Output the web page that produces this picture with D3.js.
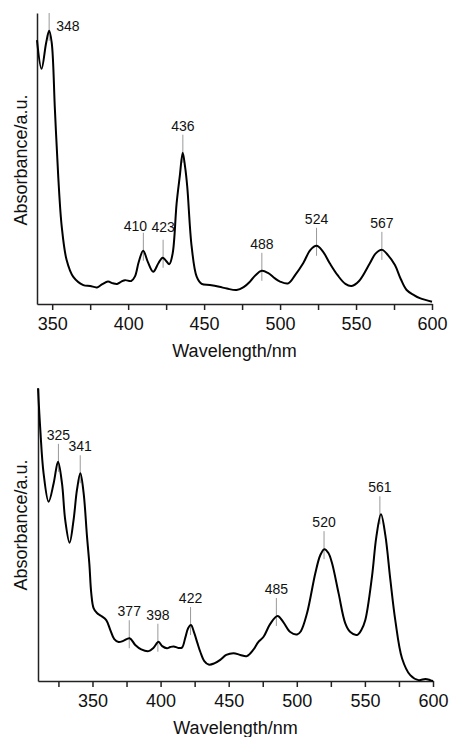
<!DOCTYPE html>
<html>
<head>
<meta charset="utf-8">
<script src="https://cdn.jsdelivr.net/npm/d3@7"></script>
<style>
  body { margin: 0; background: #fff; }
  svg { display: block; font-family: "Liberation Sans", Arial, sans-serif; }
</style>
</head>
<body>
<div class="chart"></div>
<script>
// two absorbance spectra, stacked

var width = 449;
var height = 737;

// top spectrum
var topWavelength = [340, 343, 346, 348, 349.7, 351.8, 354, 356.3, 359.5, 363.9, 370.5, 375, 379.5, 383, 386.7,
  390, 392.7, 395.5, 398, 402, 404.5, 407, 409.9, 413, 416.5, 420, 422.7, 425, 427.1, 429.3, 431.9, 434,
  435.9, 437.5, 438.9, 441.8, 445.1, 448.4, 453.8, 460, 465, 471.4, 476, 480.2, 484, 487.9, 492, 496.6,
  500, 505.4, 510, 515.2, 520, 524, 528, 532.7, 538, 543, 547.1, 552, 559.1, 563, 567.2, 571, 575.6,
  579.5, 583.3, 588, 592, 600];
var topAbsorbance = [0.907, 0.808, 0.897, 0.939, 0.897, 0.667, 0.436, 0.265, 0.151, 0.093, 0.065, 0.062, 0.057, 0.068, 0.077,
  0.071, 0.069, 0.077, 0.082, 0.079, 0.095, 0.145, 0.183, 0.144, 0.111, 0.141, 0.159, 0.148, 0.137, 0.174, 0.346, 0.44,
  0.52, 0.47, 0.403, 0.197, 0.094, 0.069, 0.065, 0.059, 0.053, 0.048, 0.058, 0.077, 0.1, 0.114, 0.107, 0.088,
  0.077, 0.071, 0.1, 0.14, 0.186, 0.2, 0.182, 0.14, 0.098, 0.069, 0.062, 0.079, 0.14, 0.174, 0.186, 0.168, 0.134,
  0.085, 0.048, 0.031, 0.02, 0.008];
var topPeaks = [348, 410, 423, 436, 488, 524, 567];

// bottom spectrum
var bottomWavelength = [310, 311.7, 314.1, 317.8, 321.5, 324.7, 327.6, 330, 333.2, 336.1, 338.6, 341.1, 343.5, 346,
  347.7, 349.1, 350.8, 353.3, 356.5, 360.1, 363.1, 366, 369.2, 372.6, 377.3, 381.4, 385.8, 391.2, 394.7, 398.5,
  401.2, 404.7, 407.1, 409.6, 413, 415.7, 418.1, 420.3, 422.3, 424.7, 427, 429.2, 432.1, 435.3, 439.4, 443.8,
  448.2, 453.6, 458.5, 463.4, 468, 471.7, 475.6, 480.5, 485.9, 490.1, 495.2, 500.2, 503, 507.5, 513.6, 517.3,
  520.2, 523.2, 525.9, 530.7, 535.6, 539.3, 544.2, 547.4, 550.3, 555.2, 558.4, 561.8, 565, 568.7, 572.3, 577.3,
  583.3, 589.4, 594.4, 598, 600];
var bottomAbsorbance = [0.999, 0.857, 0.709, 0.612, 0.675, 0.748, 0.675, 0.549, 0.472, 0.549, 0.652, 0.709, 0.641, 0.492,
  0.40, 0.30, 0.249, 0.232, 0.222, 0.208, 0.174, 0.143, 0.133, 0.137, 0.146, 0.123, 0.108, 0.102, 0.113, 0.134,
  0.119, 0.112, 0.116, 0.118, 0.113, 0.114, 0.147, 0.181, 0.191, 0.164, 0.13, 0.099, 0.068, 0.056, 0.06, 0.072,
  0.089, 0.095, 0.089, 0.085, 0.106, 0.133, 0.151, 0.195, 0.222, 0.201, 0.167, 0.159, 0.17, 0.231, 0.368, 0.43,
  0.45, 0.437, 0.402, 0.299, 0.197, 0.167, 0.157, 0.174, 0.208, 0.356, 0.492, 0.569, 0.498, 0.345, 0.208, 0.077,
  0.02, 0.003, 0.007, 0.003, 0];
var bottomPeaks = [325, 341, 377, 398, 422, 485, 520, 561];

var majorTicks = [350, 400, 450, 500, 550, 600];
var minorTicks = [325, 375, 425, 475, 525, 575];

var xTitle = "Wavelength/nm";
var yTitle = "Absorbance/a.u.";

var svg = d3.select(".chart").append("svg")
  .attr("width", width)
  .attr("height", height);

var drawSpectrum = function(opts) {
  var x = d3.scaleLinear().domain(opts.xDomain).range([opts.left, opts.right]);
  var y = d3.scaleLinear().domain([0, 1]).range([opts.bottom, opts.top]);

  var g = svg.append("g");

  var pts = opts.wl.map(function(w, i) { return [w, opts.abs[i]]; });

  // x axis: majors with labels, minors without
  var xAxis = g.append("g")
    .attr("transform", "translate(0," + opts.bottom + ")")
    .call(d3.axisBottom(x).tickValues(majorTicks).tickSize(6).tickSizeOuter(0).tickPadding(7));
  g.append("g")
    .attr("transform", "translate(0," + opts.bottom + ")")
    .call(d3.axisBottom(x).tickValues(minorTicks.filter(function(t) { return t > opts.xDomain[0]; }))
      .tickSize(6).tickSizeOuter(0).tickFormat(""))
    .select(".domain").remove();
  xAxis.selectAll("text")
    .style("font-size", "18px")
    .style("font-family", "'Liberation Sans', Arial, sans-serif")
    .attr("fill", "#111");

  // y axis: only the line
  g.append("g")
    .attr("transform", "translate(" + opts.left + ",0)")
    .call(d3.axisLeft(y).tickValues([]).tickSizeOuter(0));

  g.selectAll(".domain, .tick line")
    .attr("stroke", "#222")
    .attr("stroke-width", 1.5);

  // curve
  var line = d3.line()
    .x(function(d) { return x(d[0]); })
    .y(function(d) { return y(d[1]); })
    .curve(d3.curveCatmullRom.alpha(0.5));

  // peak markers
  var peakValue = function(p) {
    var best = pts[0];
    pts.forEach(function(d) { if (Math.abs(d[0] - p) < Math.abs(best[0] - p)) best = d; });
    return best[1];
  };

  var marks = g.selectAll(".peak").data(opts.peaks).enter().append("g").attr("class", "peak");
  marks.append("line")
    .attr("x1", function(p) { return x(p); })
    .attr("x2", function(p) { return x(p); })
    .attr("y1", function(p) { return Math.max(opts.top, y(peakValue(p)) - 18); })
    .attr("y2", function(p) { return y(peakValue(p)) + 10; })
    .attr("stroke", "#999")
    .attr("stroke-width", 1);

  g.append("path")
    .datum(pts)
    .attr("d", line)
    .attr("fill", "none")
    .attr("stroke", "#000")
    .attr("stroke-width", 2);

  marks.append("text")
    .attr("x", function(p) { return x(p) + (opts.shift[p] || [0, 0])[0]; })
    .attr("y", function(p) { return y(peakValue(p)) - 22 + (opts.shift[p] || [0, 0])[1]; })
    .attr("text-anchor", function(p) { return opts.shift[p] && opts.shift[p][2] ? opts.shift[p][2] : "middle"; })
    .style("font-size", "14px")
    .attr("fill", "#111")
    .text(function(p) { return p; });

  // titles
  g.append("text")
    .attr("x", (opts.left + opts.right) / 2)
    .attr("y", opts.bottom + 53)
    .attr("text-anchor", "middle")
    .style("font-size", "18px")
    .attr("fill", "#111")
    .text(xTitle);

  g.append("text")
    .attr("transform", "translate(27," + opts.yTitleMid + ") rotate(-90)")
    .attr("text-anchor", "middle")
    .style("font-size", "18px")
    .attr("fill", "#111")
    .text(yTitle);
};

drawSpectrum({
  wl: topWavelength, abs: topAbsorbance, peaks: topPeaks,
  xDomain: [340, 600], left: 37, right: 432, top: 13, bottom: 304, yTitleMid: 160,
  shift: { 348: [7, 22, "start"], 410: [-8, 2], 423: [0, -4] }
});

drawSpectrum({
  wl: bottomWavelength, abs: bottomAbsorbance, peaks: bottomPeaks,
  xDomain: [310, 600], left: 38, right: 433, top: 388, bottom: 681, yTitleMid: 525,
  shift: {}
});
</script>
</body>
</html>
